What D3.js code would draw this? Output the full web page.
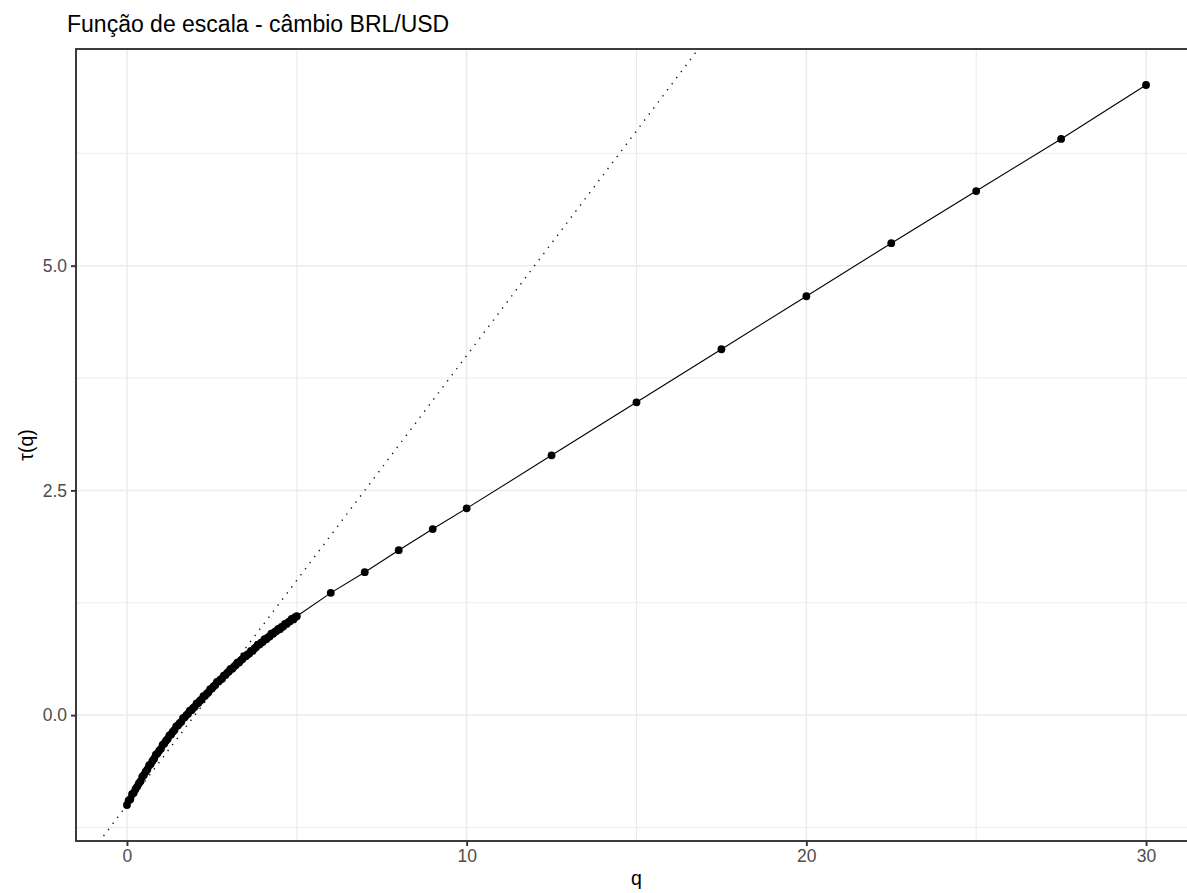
<!DOCTYPE html>
<html>
<head>
<meta charset="utf-8">
<script src="https://cdn.jsdelivr.net/npm/d3@7"></script>
<style>
body { margin: 0; background: #fff; }
text { font-family: "Liberation Sans", Arial, sans-serif; }
</style>
</head>
<body>
<div class="chart"></div>
<script>
// q values: dense from 0 to 5 (step 0.05), then sparse up to 30
var q_values = [
    0.00, 0.05, 0.10, 0.15, 0.20, 0.25, 0.30, 0.35, 0.40, 0.45,
    0.50, 0.55, 0.60, 0.65, 0.70, 0.75, 0.80, 0.85, 0.90, 0.95,
    1.00, 1.05, 1.10, 1.15, 1.20, 1.25, 1.30, 1.35, 1.40, 1.45,
    1.50, 1.55, 1.60, 1.65, 1.70, 1.75, 1.80, 1.85, 1.90, 1.95,
    2.00, 2.05, 2.10, 2.15, 2.20, 2.25, 2.30, 2.35, 2.40, 2.45,
    2.50, 2.55, 2.60, 2.65, 2.70, 2.75, 2.80, 2.85, 2.90, 2.95,
    3.00, 3.05, 3.10, 3.15, 3.20, 3.25, 3.30, 3.35, 3.40, 3.45,
    3.50, 3.55, 3.60, 3.65, 3.70, 3.75, 3.80, 3.85, 3.90, 3.95,
    4.00, 4.05, 4.10, 4.15, 4.20, 4.25, 4.30, 4.35, 4.40, 4.45,
    4.50, 4.55, 4.60, 4.65, 4.70, 4.75, 4.80, 4.85, 4.90, 4.95,
    5.00, 6, 7, 8, 9, 10, 12.5, 15, 17.5, 20, 22.5, 25, 27.5, 30
];
var tau_values = [
    -1.000, -0.950, -0.935, -0.880, -0.865, -0.825, -0.795, -0.760, -0.735, -0.685,
    -0.665, -0.630, -0.605, -0.560, -0.545, -0.510, -0.485, -0.440, -0.425, -0.395,
    -0.375, -0.330, -0.315, -0.285, -0.265, -0.225, -0.215, -0.185, -0.165, -0.125,
    -0.115, -0.090, -0.075, -0.035, -0.025, 0.000, 0.015, 0.050, 0.055, 0.080,
    0.095, 0.130, 0.135, 0.160, 0.175, 0.210, 0.215, 0.240, 0.255, 0.290,
    0.295, 0.320, 0.335, 0.370, 0.375, 0.395, 0.405, 0.440, 0.445, 0.470,
    0.485, 0.515, 0.515, 0.540, 0.555, 0.585, 0.585, 0.610, 0.625, 0.655,
    0.655, 0.675, 0.685, 0.715, 0.715, 0.740, 0.755, 0.785, 0.785, 0.805,
    0.815, 0.845, 0.845, 0.865, 0.875, 0.905, 0.905, 0.925, 0.935, 0.960,
    0.955, 0.980, 0.985, 1.015, 1.015, 1.035, 1.045, 1.070, 1.065, 1.090,
    1.100, 1.36, 1.59, 1.835, 2.07, 2.30, 2.89, 3.48, 4.07, 4.66, 5.25, 5.83, 6.41, 7.01
];
var x_ticks = [0, 10, 20, 30],
    x_minor = [5, 15, 25],
    y_ticks = [0, 2.5, 5],
    y_minor = [-1.25, 1.25, 3.75, 6.25];
var ref_intercept = -1,
    ref_slope = 0.5;

var width = 1187,
    height = 893,
    panel_left = 76,
    panel_right = 1197,
    panel_top = 49,
    panel_bottom = 841;

var points = q_values.map(function(q, i) { return { q: q, tau: tau_values[i] }; });

var x = d3.scaleLinear().domain([-1.5, 31.5]).range([panel_left, panel_right]);
var y = d3.scaleLinear().domain([-1.4005, 7.4105]).range([panel_bottom, panel_top]);

var svg = d3.select(".chart")
    .append("svg")
    .attr("width", width)
    .attr("height", height);

svg.append("defs").append("clipPath").attr("id", "panel-clip")
    .append("rect")
    .attr("x", panel_left).attr("y", panel_top)
    .attr("width", panel_right - panel_left).attr("height", panel_bottom - panel_top);

// grid
var grid = svg.append("g");
grid.selectAll(".xminor").data(x_minor).enter().append("line")
    .attr("x1", d => x(d)).attr("x2", d => x(d))
    .attr("y1", panel_top).attr("y2", panel_bottom)
    .attr("stroke", "#ebebeb").attr("stroke-width", 1.1);
grid.selectAll(".yminor").data(y_minor).enter().append("line")
    .attr("y1", d => y(d)).attr("y2", d => y(d))
    .attr("x1", panel_left).attr("x2", panel_right)
    .attr("stroke", "#ebebeb").attr("stroke-width", 1.1);
grid.selectAll(".xmajor").data(x_ticks).enter().append("line")
    .attr("x1", d => x(d)).attr("x2", d => x(d))
    .attr("y1", panel_top).attr("y2", panel_bottom)
    .attr("stroke", "#ebebeb").attr("stroke-width", 1.5);
grid.selectAll(".ymajor").data(y_ticks).enter().append("line")
    .attr("y1", d => y(d)).attr("y2", d => y(d))
    .attr("x1", panel_left).attr("x2", panel_right)
    .attr("stroke", "#ebebeb").attr("stroke-width", 1.5);

var plot = svg.append("g").attr("clip-path", "url(#panel-clip)");

// reference line (dotted)
var ref_q = x.domain();
plot.append("line")
    .attr("x1", x(ref_q[0])).attr("y1", y(ref_intercept + ref_slope * ref_q[0]))
    .attr("x2", x(ref_q[1])).attr("y2", y(ref_intercept + ref_slope * ref_q[1]))
    .attr("stroke", "#1a1a1a")
    .attr("stroke-width", 1.4)
    .attr("stroke-dasharray", "1.4 6.2");

// line through the estimates
plot.append("path")
    .datum(points)
    .attr("d", d3.line().x(d => x(d.q)).y(d => y(d.tau)))
    .attr("fill", "none")
    .attr("stroke", "#000")
    .attr("stroke-width", 1.1);

plot.selectAll("circle").data(points).enter().append("circle")
    .attr("cx", d => x(d.q))
    .attr("cy", d => y(d.tau))
    .attr("r", 3.9)
    .attr("fill", "#000");

// panel border
svg.append("rect")
    .attr("x", panel_left).attr("y", panel_top)
    .attr("width", panel_right - panel_left).attr("height", panel_bottom - panel_top)
    .attr("fill", "none").attr("stroke", "#333").attr("stroke-width", 1.9);

// axes
var x_axis = svg.append("g")
    .attr("transform", "translate(0," + panel_bottom + ")")
    .call(d3.axisBottom(x).tickValues(x_ticks).tickFormat(d3.format("d")).tickSize(5).tickPadding(4));
var y_axis = svg.append("g")
    .attr("transform", "translate(" + panel_left + ",0)")
    .call(d3.axisLeft(y).tickValues(y_ticks).tickFormat(d3.format(".1f")).tickSize(5).tickPadding(4));

[x_axis, y_axis].forEach(function(a) {
    a.select(".domain").remove();
    a.selectAll(".tick line").attr("stroke", "#333").attr("stroke-width", 1.9);
    a.selectAll(".tick text")
        .attr("fill", "#4d4d4d")
        .attr("font-size", 17.5)
        .attr("font-family", "'Liberation Sans', Arial, sans-serif");
});

// titles
svg.append("text")
    .attr("x", 67).attr("y", 32)
    .attr("font-size", 23)
    .attr("fill", "#000")
    .text("Função de escala - câmbio BRL/USD");

svg.append("text")
    .attr("x", (panel_left + panel_right) / 2).attr("y", 885)
    .attr("text-anchor", "middle")
    .attr("font-size", 19.5)
    .attr("fill", "#000")
    .text("q");

svg.append("text")
    .attr("transform", "translate(33," + (panel_top + panel_bottom) / 2 + ") rotate(-90)")
    .attr("text-anchor", "middle")
    .attr("font-size", 19.5)
    .attr("fill", "#000")
    .text("τ(q)");
</script>
</body>
</html>
